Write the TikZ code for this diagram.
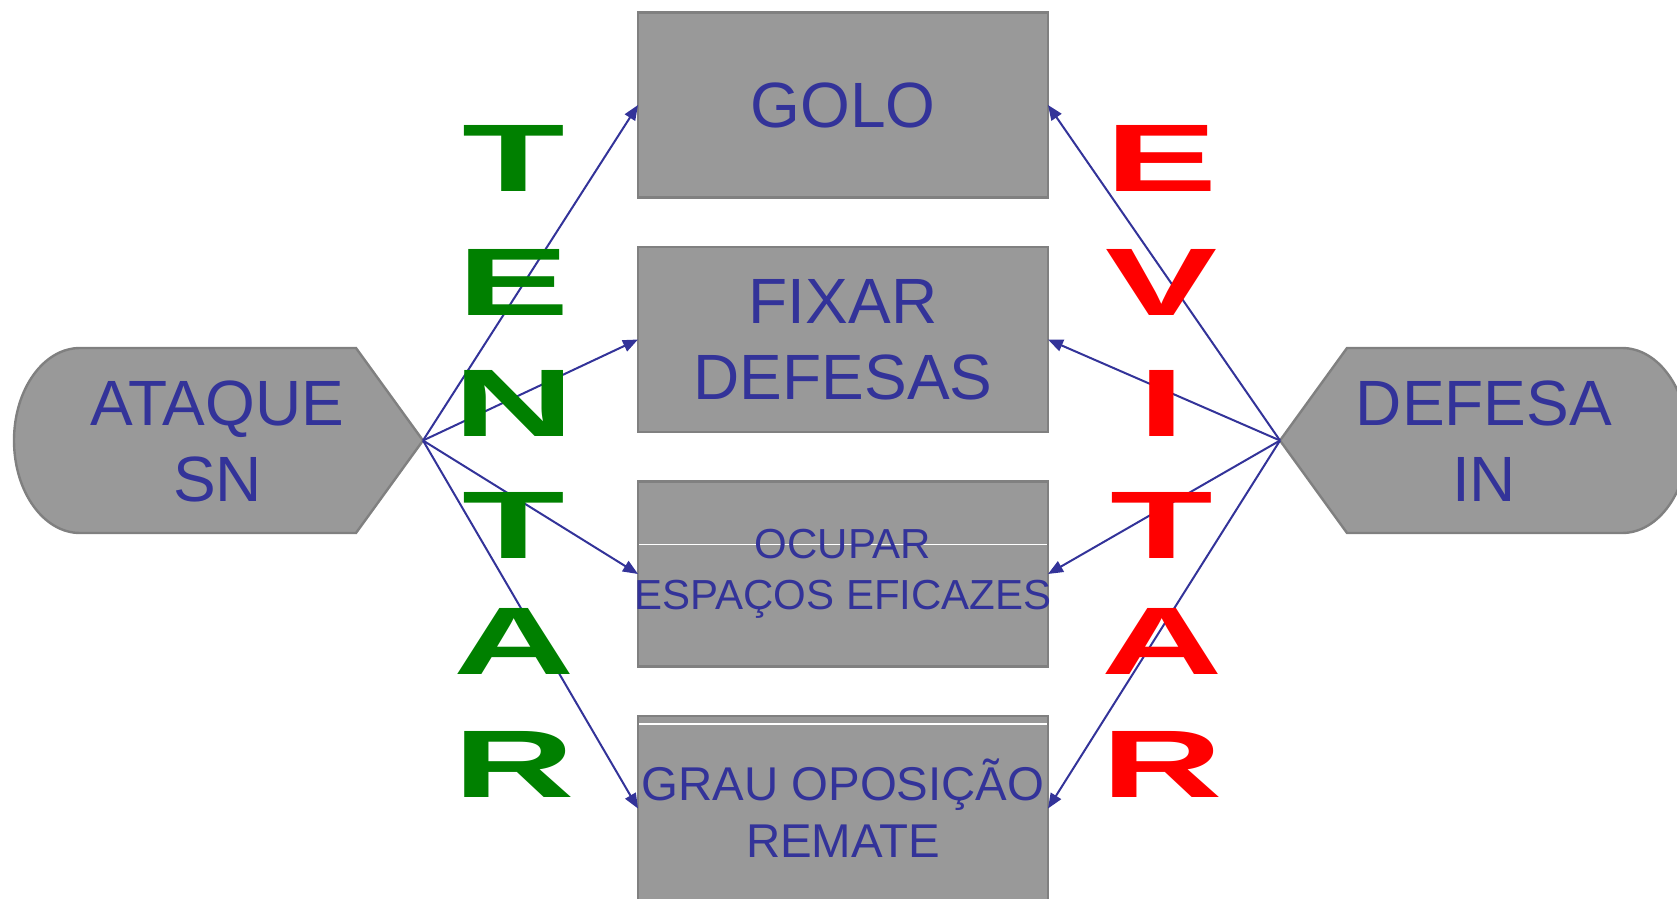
\documentclass[tikz,border=0pt]{standalone}
\usepackage{fontspec}
\setmainfont{Liberation Sans}
\usepackage{graphicx}
\usetikzlibrary{positioning}
\usetikzlibrary{arrows.meta}
\definecolor{txtblue}{HTML}{333399}
\definecolor{boxfill}{HTML}{999999}
\definecolor{boxline}{HTML}{808080}
\definecolor{trygreen}{HTML}{008000}
\definecolor{avoidred}{HTML}{FF0000}
\newcommand{\wideletter}[1]{\scalebox{1.75}[1]{#1}}
\tikzset{
        % Middle boxes
        box/.style={draw=boxline, fill=boxfill, line width=1.2pt, outer sep=0pt, inner sep=0pt,
                    minimum width=205pt, minimum height=92.5pt, align=center, text=txtblue,
                    font=\fontsize{32}{38}\selectfont},
        % White stripe across a box
        stripe/.style={path picture={\draw[white, line width=0.6pt]
                    ([yshift=-#1]path picture bounding box.north west) --
                    ([yshift=-#1]path picture bounding box.north east);}},
        % Side shapes (attack / defence)
        side/.style={draw=boxline, fill=boxfill, line width=1.2pt},
        sidetext/.style={align=center, text=txtblue, inner sep=0pt, font=\fontsize{32}{38}\selectfont},
        % Big letters
        tryletter/.style={inner sep=0pt, text=trygreen, font=\fontsize{48}{48}\selectfont\bfseries},
        avoidletter/.style={inner sep=0pt, text=avoidred, font=\fontsize{48}{48}\selectfont\bfseries},
        % Connectors
        link/.style={-{Triangle[length=7.5pt,width=6pt]}, draw=txtblue, line width=1pt}
}
\begin{document}
\begin{tikzpicture}[x=0.5pt, y=-0.5pt, node distance=24.75pt]
    \useasboundingbox (0,0) rectangle (1677,899);
    % attack shape
    \draw[side] (356,348) -- (423,440.5) -- (356,533) -- (80,533)
        .. controls (43.55,533) and (14,491.6) .. (14,440.5)
        .. controls (14,389.4) and (43.55,348) .. (80,348) -- cycle;
    \coordinate (ataque tip) at (423,440.5);
    \node[sidetext] (ataque) at (217.5,441) {ATAQUE\\SN};
    % defence shape
    \draw[side] (1347,348) -- (1280,440.5) -- (1347,533) -- (1622,533)
        .. controls (1658.45,533) and (1688,491.6) .. (1688,440.5)
        .. controls (1688,389.4) and (1658.45,348) .. (1622,348) -- cycle;
    \coordinate (defesa tip) at (1280,440.5);
    \node[sidetext] (defesa) at (1484,441) {DEFESA\\IN};
    % boxes
    \node[box] (golo) at (843,105) {GOLO};
    \node[box, below=of golo] (fixar) {FIXAR\\DEFESAS};
    \node[box, below=of fixar, stripe=31.5pt, font=\fontsize{21}{25.5}\selectfont] (ocupar)
        {OCUPAR\\\makebox[200pt]{ESPAÇOS EFICAZES}};
    \node[box, below=of ocupar, stripe=4pt, font=\fontsize{23.7}{28.5}\selectfont] (grau)
        {GRAU OPOSIÇÃO\\REMATE};
    % arrows
    \foreach \target in {golo, fixar, ocupar, grau} {
        \draw[link] (ataque tip) -- (\target.west);
        \draw[link] (defesa tip) -- (\target.east);
    }
    % TENTAR / EVITAR
    \foreach \letter/\ypos [count=\i] in {T/158, E/282, N/403, T/525, A/641, R/764}
        \node[tryletter] (try\i) at (514,\ypos) {\wideletter{\letter}};
    \foreach \letter/\ypos [count=\i] in {E/158, V/282, I/403, T/525, A/641, R/764}
        \node[avoidletter] (avoid\i) at (1162,\ypos) {\wideletter{\letter}};
\end{tikzpicture}
\end{document}
